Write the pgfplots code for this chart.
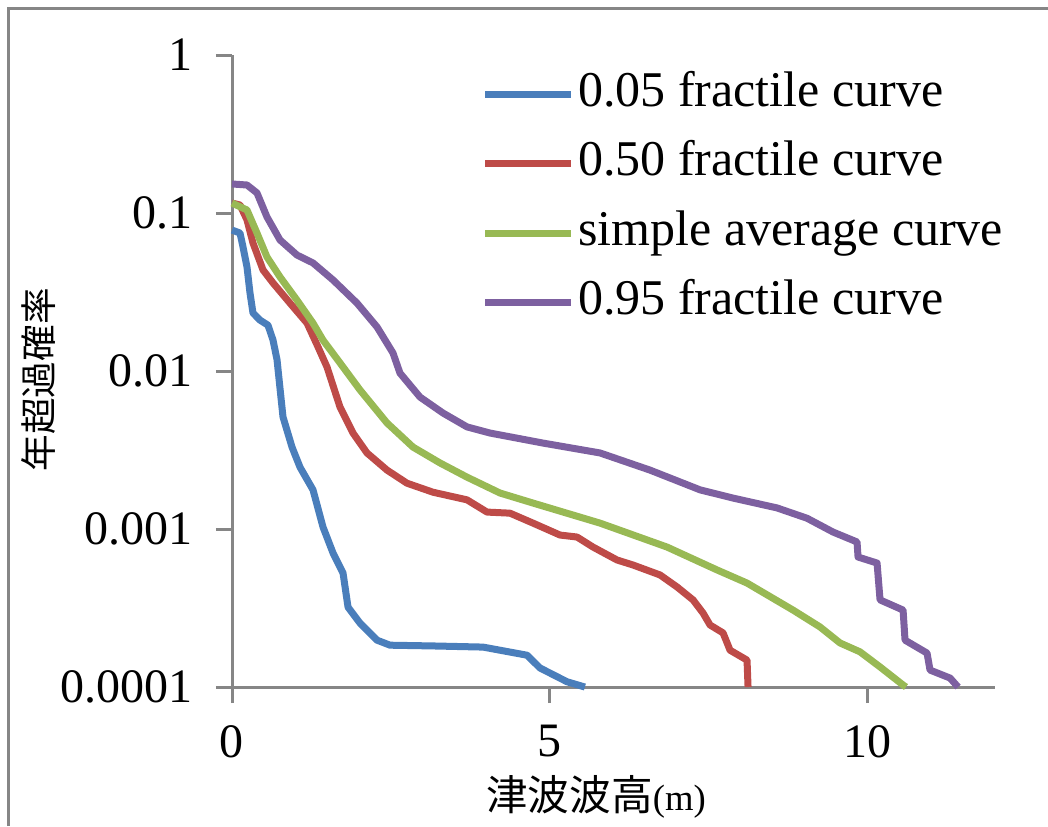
\documentclass[border=0pt]{standalone}
\usepackage{fontspec}
\setmainfont{Liberation Serif}
\newfontfamily\cjk{Noto Sans CJK JP}
\usepackage{pgfplots}
\pgfplotsset{compat=1.18}
\definecolor{axgray}{HTML}{868686}
\definecolor{cblue}{HTML}{4A7EBB}
\definecolor{cred}{HTML}{BE4B48}
\definecolor{cgreen}{HTML}{98B954}
\definecolor{cpurple}{HTML}{7D60A0}
\begin{document}
\begin{tikzpicture}
\begin{axis}[
  scale only axis,
  width=228.9pt, height=189.6pt,
  xmin=0, xmax=12, ymin=0.0001, ymax=1,
  ymode=log,
  axis x line=bottom, axis y line=left,
  axis line style={axgray, line width=0.9pt, -},
  every tick/.style={axgray, line width=0.9pt},
  tick align=outside,
  major tick length=4.8pt,
  yminorticks=false, xminorticks=false,
  ytick={0.0001,0.001,0.01,0.1,1},
  yticklabels={0.0001,0.001,0.01,0.1,1},
  xtick={0,5,10},
  xticklabels={0,5,10},
  /pgf/number format/assume math mode=true,
  tick label style={font=\fontsize{14.4}{16}\selectfont, text=black},
  yticklabel style={xshift=-3.6pt},
  xticklabel style={yshift=-3.2pt},
  xlabel={{\cjk 津波波高}\fontsize{11}{12}\selectfont(m)},
  xlabel style={font=\fontsize{12.5}{14}\selectfont, at={(rel axis cs:0.477,-0.174)}, anchor=center},
  ylabel={\cjk 年超過確率},
  ylabel style={font=\fontsize{11}{13}\selectfont, at={(rel axis cs:-0.254,0.486)}, anchor=center, rotate=0},
  legend style={draw=none, fill=none, inner sep=0pt, at={(rel axis cs:0.3267,0.981)}, anchor=north west,
    font=\fontsize{15}{18}\selectfont, row sep=4.85pt,
    nodes={inner sep=1pt, text height=10.5pt, text depth=3.5pt}},
  legend cell align=left,
  legend image code/.code={\draw[#1] (0pt,0pt) -- (25.8pt,0pt);},
  every axis plot/.append style={line width=2.1pt, line join=round, no markers},
  clip=false,
]
\addplot[cblue] coordinates {
(0,0.078) (0.126,0.0747) (0.173,0.061) (0.236,0.0455) (0.283,0.0312) (0.330,0.0233)
(0.440,0.0210) (0.566,0.0195) (0.645,0.0157) (0.708,0.0118) (0.802,0.00512)
(0.944,0.00330) (1.07,0.00246) (1.274,0.00177) (1.431,0.00103) (1.589,0.000705)
(1.746,0.000527) (1.825,0.000320) (2.013,0.000254) (2.281,0.000198) (2.485,0.000184)
(3.161,0.000182) (3.948,0.000179) (4.640,0.000159) (4.844,0.000132) (5.269,0.000108)
(5.55,0.0001)
};
\addlegendentry{0.05 fractile curve}
\addplot[cred] coordinates {
(0,0.1156) (0.126,0.1124) (0.236,0.0904) (0.330,0.0646) (0.488,0.0436) (0.645,0.0361)
(0.912,0.0269) (1.180,0.0201) (1.353,0.0142) (1.494,0.0106) (1.699,0.00591)
(1.903,0.00405) (2.123,0.00303) (2.438,0.00236) (2.752,0.00195) (3.161,0.00171)
(3.696,0.00153) (4.011,0.00128) (4.372,0.00126) (4.734,0.00109) (5.159,0.000916)
(5.426,0.000890) (5.678,0.000769) (6.055,0.000637) (6.307,0.000592) (6.732,0.000512)
(6.999,0.000430) (7.251,0.000356) (7.408,0.000294) (7.518,0.000247) (7.723,0.000220)
(7.833,0.000171) (8.100,0.000148) (8.116,0.0001)
};
\addlegendentry{0.50 fractile curve}
\addplot[cgreen] coordinates {
(0,0.1156) (0.236,0.1045) (0.393,0.0747) (0.550,0.0527) (0.755,0.0394) (1.022,0.0281)
(1.274,0.0201) (1.431,0.0157) (1.699,0.01125) (2.013,0.00759) (2.438,0.00469)
(2.847,0.00330) (3.271,0.00262) (3.696,0.00213) (4.215,0.00169) (4.734,0.00146)
(5.788,0.00109) (6.842,0.000769) (7.628,0.000551) (8.100,0.000455) (8.823,0.000307)
(9.248,0.000240) (9.563,0.000190) (9.877,0.000167) (10.192,0.000134) (10.554,0.000103)
(10.60,0.0001)
};
\addlegendentry{simple average curve}
\addplot[cpurple] coordinates {
(0,0.1527) (0.236,0.1504) (0.393,0.134) (0.550,0.0944) (0.755,0.0675) (1.022,0.0542)
(1.274,0.0483) (1.589,0.0377) (1.966,0.0269) (2.281,0.0190) (2.532,0.0130)
(2.642,0.00970) (2.957,0.00684) (3.319,0.00542) (3.696,0.00443) (4.058,0.00405)
(4.891,0.00350) (5.788,0.00303) (6.574,0.00236) (7.361,0.00177) (7.880,0.00157)
(8.572,0.00136) (9.044,0.00117) (9.453,0.000957) (9.830,0.000828) (9.846,0.000665)
(10.145,0.000609) (10.192,0.000356) (10.554,0.000307) (10.585,0.000198)
(10.931,0.000164) (10.978,0.000128) (11.293,0.000114) (11.419,0.0001)
};
\addlegendentry{0.95 fractile curve}
\coordinate (bl) at (rel axis cs:-0.30406,-0.21994);
\coordinate (tr) at (rel axis cs:1.06946,1.08703);
\coordinate (fl) at (rel axis cs:-0.29292,-0.21994);
\coordinate (fc) at (rel axis cs:-0.29292,1.07358);
\coordinate (fr) at (rel axis cs:1.06946,1.07358);
\end{axis}
\pgfresetboundingbox
\path[use as bounding box] (bl) rectangle (tr);
\draw[axgray, line width=0.9pt] (fl) -- (fc) -- (fr);
\end{tikzpicture}
\end{document}
